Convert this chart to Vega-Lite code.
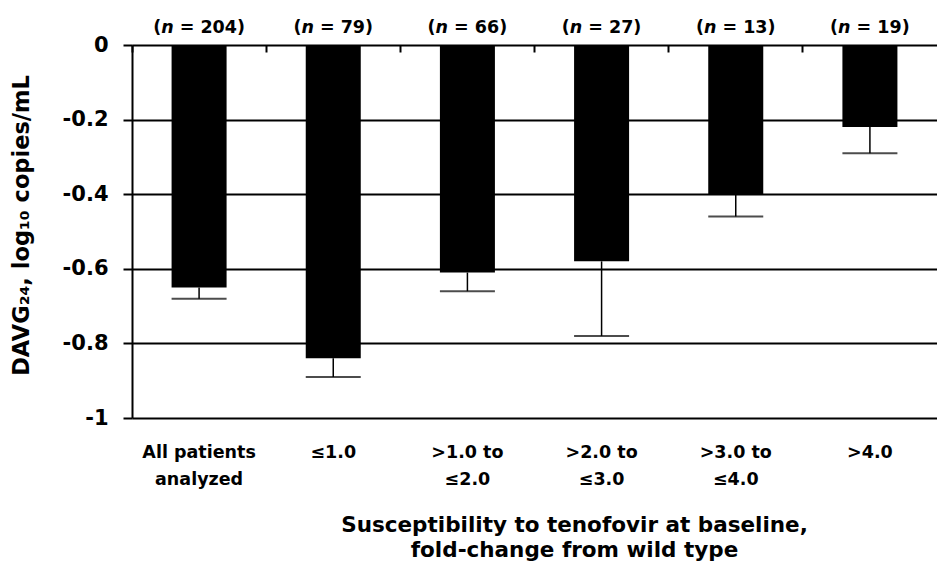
{
  "$schema": "https://vega.github.io/schema/vega-lite/v6.json",
  "width": 805,
  "height": 373,
  "autosize": {"type": "none"},
  "padding": {"left": 132, "top": 45, "right": 0, "bottom": 145},
  "background": "white",
  "config": {"view": {"stroke": null}, "font": "DejaVu Sans"},
  "data": {
    "values": [
      {"cat": "All patients|analyzed", "mean": -0.65, "lo": -0.68, "n": "204"},
      {"cat": "≤1.0", "mean": -0.84, "lo": -0.89, "n": "79"},
      {"cat": ">1.0 to|≤2.0", "mean": -0.61, "lo": -0.66, "n": "66"},
      {"cat": ">2.0 to|≤3.0", "mean": -0.58, "lo": -0.78, "n": "27"},
      {"cat": ">3.0 to|≤4.0", "mean": -0.40, "lo": -0.46, "n": "13"},
      {"cat": ">4.0", "mean": -0.22, "lo": -0.29, "n": "19"}
    ]
  },
  "resolve": {"axis": {"x": "independent"}},
  "layer": [
    {
      "mark": {"type": "bar", "color": "black", "width": {"band": 0.41}},
      "encoding": {
        "x": {
          "field": "cat", "type": "nominal", "sort": null,
          "scale": {"paddingInner": 0, "paddingOuter": 0},
          "axis": {
            "orient": "bottom", "domain": false, "ticks": false, "grid": false,
            "labelExpr": "split(datum.label, '|')", "labelAngle": 0,
            "labelFont": "DejaVu Sans", "labelFontWeight": "bold", "labelFontSize": 17.5,
            "labelColor": "black", "labelBaseline": "alphabetic", "labelPadding": 39,
            "labelLineHeight": 27,
            "title": ["Susceptibility to tenofovir at baseline,", "fold-change from wild type"],
            "titleFont": "DejaVu Sans", "titleFontSize": 21.5, "titleFontWeight": "bold",
            "titleColor": "black", "titleX": 442, "titleY": 113, "titleBaseline": "alphabetic",
            "titleAlign": "center", "titleLineHeight": 25
          }
        },
        "y": {
          "field": "mean", "type": "quantitative",
          "scale": {"domain": [-1, 0], "nice": false},
          "axis": {
            "orient": "left",
            "values": [0, -0.2, -0.4, -0.6, -0.8, -1],
            "labelExpr": "datum.value == 0 ? '0' : datum.value == -1 ? '-1' : '-' + format(-datum.value, '.1f')",
            "grid": true, "gridColor": "black", "gridWidth": 2, "gridOpacity": 1,
            "domain": true, "domainColor": "black", "domainWidth": 2,
            "ticks": true, "tickColor": "black", "tickWidth": 2, "tickSize": 9,
            "labels": true,
            "labelPadding": 15, "labelFont": "DejaVu Sans", "labelFontSize": 21,
            "labelFontWeight": "bold", "labelColor": "black",
            "title": "DAVG₂₄, log₁₀ copies/mL",
            "titleFont": "DejaVu Sans", "titleFontSize": 22.5, "titleFontWeight": "bold",
            "titleColor": "black", "titleAngle": -90, "titleX": -104, "titleY": 180,
            "titleBaseline": "alphabetic", "titleAlign": "center"
          }
        }
      }
    },
    {
      "mark": {"type": "rule", "color": "black", "strokeWidth": 1.5},
      "encoding": {
        "x": {
          "field": "cat", "type": "nominal", "sort": null,
          "axis": {
            "orient": "top", "labels": false, "domain": false, "grid": false,
            "ticks": true, "tickSize": -7, "tickWidth": 2, "tickColor": "black",
            "bandPosition": 0, "title": null
          }
        },
        "y": {"field": "mean", "type": "quantitative"},
        "y2": {"field": "lo"}
      }
    },
    {
      "mark": {"type": "tick", "color": "black", "size": 55, "thickness": 2},
      "encoding": {
        "x": {"field": "cat", "type": "nominal", "sort": null, "axis": null},
        "y": {"field": "lo", "type": "quantitative"}
      }
    },
    {
      "mark": {
        "type": "text", "text": "(", "align": "right", "baseline": "alphabetic",
        "dy": -12, "dx": {"expr": "-19.65 - 6.09*length(datum.n)"},
        "font": "DejaVu Sans", "fontSize": 17.5, "fontWeight": "bold", "color": "black"
      },
      "encoding": {
        "x": {"field": "cat", "type": "nominal", "sort": null, "axis": null},
        "y": {"datum": 0}
      }
    },
    {
      "mark": {
        "type": "text", "text": "n", "align": "right", "baseline": "alphabetic",
        "dy": -12, "dx": {"expr": "-7.15 - 6.09*length(datum.n)"},
        "font": "DejaVu Sans", "fontSize": 17.5, "fontWeight": "bold", "fontStyle": "italic", "color": "black"
      },
      "encoding": {
        "x": {"field": "cat", "type": "nominal", "sort": null, "axis": null},
        "y": {"datum": 0}
      }
    },
    {
      "mark": {
        "type": "text", "text": {"expr": "'= ' + datum.n + ')'"}, "align": "left", "baseline": "alphabetic",
        "dy": -12, "dx": {"expr": "-1.15 - 6.09*length(datum.n)"},
        "font": "DejaVu Sans", "fontSize": 17.5, "fontWeight": "bold", "color": "black"
      },
      "encoding": {
        "x": {"field": "cat", "type": "nominal", "sort": null, "axis": null},
        "y": {"datum": 0}
      }
    }
  ]
}
